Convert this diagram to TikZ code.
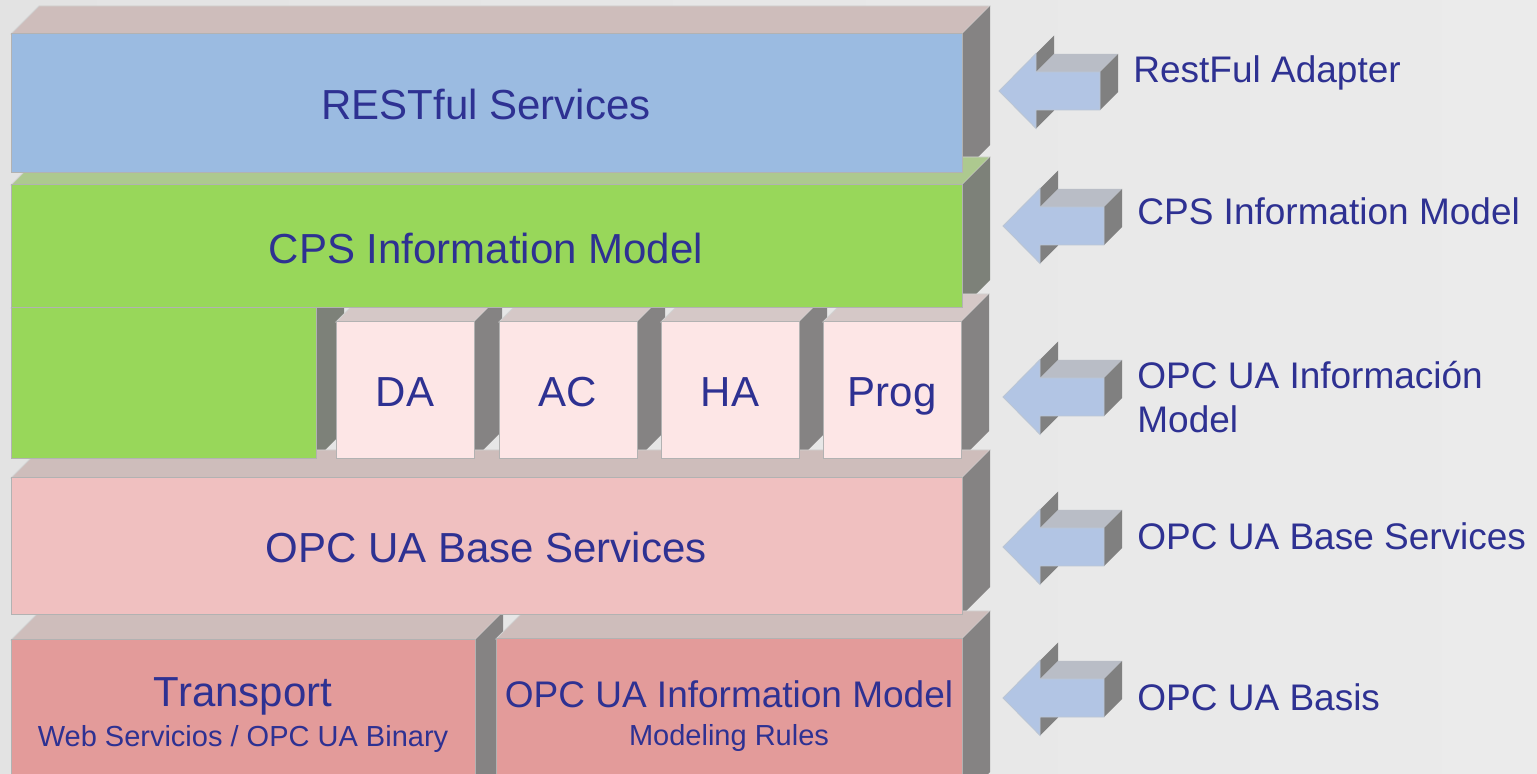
\documentclass[tikz,border=0pt]{standalone}
\usepackage{fontspec}
\setmainfont{Liberation Sans}
\definecolor{ink}{HTML}{2E3192}
\definecolor{bgL}{HTML}{E3E3E3}
\definecolor{bgR}{HTML}{EBEBEB}
\definecolor{blueF}{HTML}{9BBBE1}
\definecolor{greenF}{HTML}{98D75A}
\definecolor{greenT}{HTML}{ADC98F}
\definecolor{greenS}{HTML}{7D8179}
\definecolor{roseT}{HTML}{CEBDBB}
\definecolor{paleF}{HTML}{FDE6E6}
\definecolor{paleT}{HTML}{D5C8C7}
\definecolor{pinkF}{HTML}{F0C0C0}
\definecolor{redF}{HTML}{E39B9A}
\definecolor{greyS}{HTML}{858383}
\definecolor{arrF}{HTML}{B2C5E4}
\definecolor{arrT}{HTML}{B9BDC6}
\definecolor{arrD}{HTML}{808080}
\tikzset{
  x=0.5pt, y=-0.5pt,
  frontface/.style={draw=black!30, line width=0.5pt},
  topface/.style={draw=black!18, line width=0.4pt},
  sideface/.style={draw=none},
  boxlabel/.style={text=ink, font=\fontsize{21}{25}\selectfont, anchor=base, inner sep=0pt},
  midlabel/.style={text=ink, font=\fontsize{18.5}{22}\selectfont, anchor=base, inner sep=0pt},
  sublabel/.style={text=ink, font=\fontsize{14.5}{17}\selectfont, anchor=base, inner sep=0pt},
  sidelabel/.style={text=ink, font=\fontsize{18.5}{22}\selectfont, anchor=base west, inner sep=0pt},
}
% top and right faces of a block whose front is (#1,#2)-(#3,#4)
\newcommand\blockback[6]{%
  \filldraw[topface,fill=#5] (#1,#2) -- (#1+28,#2-28) -- (#3+28,#2-28) -- (#3,#2) -- cycle;
  \fill[fill=#6] (#3,#2) -- (#3+28,#2-28) -- (#3+28,#4-28) -- (#3,#4) -- cycle;}
% front face of a block
\newcommand\blockfront[5]{%
  \filldraw[frontface,fill=#5] (#1,#2) rectangle (#3,#4);}
% extruded arrow pointing left, tip at (#1,#2)
\newcommand\blockarrow[2]{%
  \begin{scope}[shift={(#1,#2)}]
    \fill[arrD] (37,-37.5) -- (55,-55.5) -- (55,-37) -- (37,-19) -- cycle;
    \fill[arrT] (37,-19) -- (55,-37) -- (119,-37) -- (101,-19) -- cycle;
    \fill[arrD] (101,-19) -- (119,-37) -- (119,1) -- (101,19) -- cycle;
    \fill[arrD] (37,19) -- (37,37.5) -- (55,19.5) -- (55,1) -- cycle;
    \filldraw[fill=arrF, draw=arrF!80!black!60, line width=0.4pt]
      (0,0) -- (37,-37.5) -- (37,-19) -- (101,-19) -- (101,19) -- (37,19) -- (37,37.5) -- cycle;
  \end{scope}}
\begin{document}
\begin{tikzpicture}
\useasboundingbox (0,0) rectangle (1537,774);
\clip (0,0) rectangle (1537,774);
\fill[left color=bgL, right color=bgR] (0,0) rectangle (1537,774);

% back faces of the stack
\blockback{11}{34}{962}{173}{roseT}{greyS}
\blockback{11}{185}{962}{308}{greenT}{greenS}
\blockback{11}{308}{316}{459}{greenT}{greenS}
\blockback{336}{322}{474}{459}{paleT}{greyS}
\blockback{499}{322}{637}{459}{paleT}{greyS}
\blockback{661}{322}{799}{459}{paleT}{greyS}
\blockback{823}{322}{961}{459}{paleT}{greyS}
\blockback{11}{478}{962}{615}{roseT}{greyS}
\blockback{11}{640}{475}{800}{roseT}{greyS}
\blockback{496}{639}{962}{800}{roseT}{greyS}

% front faces
\blockfront{11}{34}{962}{173}{blueF}
\blockfront{11}{185}{962}{308}{greenF}
\blockfront{11}{308}{316}{459}{greenF}
\blockfront{336}{322}{474}{459}{paleF}
\blockfront{499}{322}{637}{459}{paleF}
\blockfront{661}{322}{799}{459}{paleF}
\blockfront{823}{322}{961}{459}{paleF}
\blockfront{11}{478}{962}{615}{pinkF}
\blockfront{11}{640}{475}{800}{redF}
\blockfront{496}{639}{962}{800}{redF}

% block labels
\node[boxlabel] (rest) at (486,120) {RESTful Services};
\node[boxlabel] (cps) at (486,264) {CPS Information Model};
\node[boxlabel] (da) at (405,407) {DA};
\node[boxlabel] (ac) at (568,407) {AC};
\node[boxlabel] (ha) at (730,407) {HA};
\node[boxlabel] (prog) at (892,407) {Prog};
\node[boxlabel] (base) at (486,563) {OPC UA Base Services};
\node[boxlabel] (transport) at (243,706) {Transport};
\node[sublabel] (transportsub) at (243,747) {Web Servicios / OPC UA Binary};
\node[midlabel] (infomodel) at (729,707) {OPC UA Information Model};
\node[sublabel] (infomodelsub) at (729,745) {Modeling Rules};

% arrows with their captions
\blockarrow{999}{91}
\blockarrow{1003}{226}
\blockarrow{1003}{397}
\blockarrow{1003}{547}
\blockarrow{1003}{698}
\node[sidelabel] (capA) at (1133,83) {RestFul Adapter};
\node[sidelabel] (capB) at (1137,225) {CPS Information Model};
\node[sidelabel] (capC) at (1137,389) {OPC UA Información};
\node[sidelabel] (capCb) at (1137,433) {Model};
\node[sidelabel] (capD) at (1137,550) {OPC UA Base Services};
\node[sidelabel] (capE) at (1137,711) {OPC UA Basis};
\end{tikzpicture}
\end{document}
